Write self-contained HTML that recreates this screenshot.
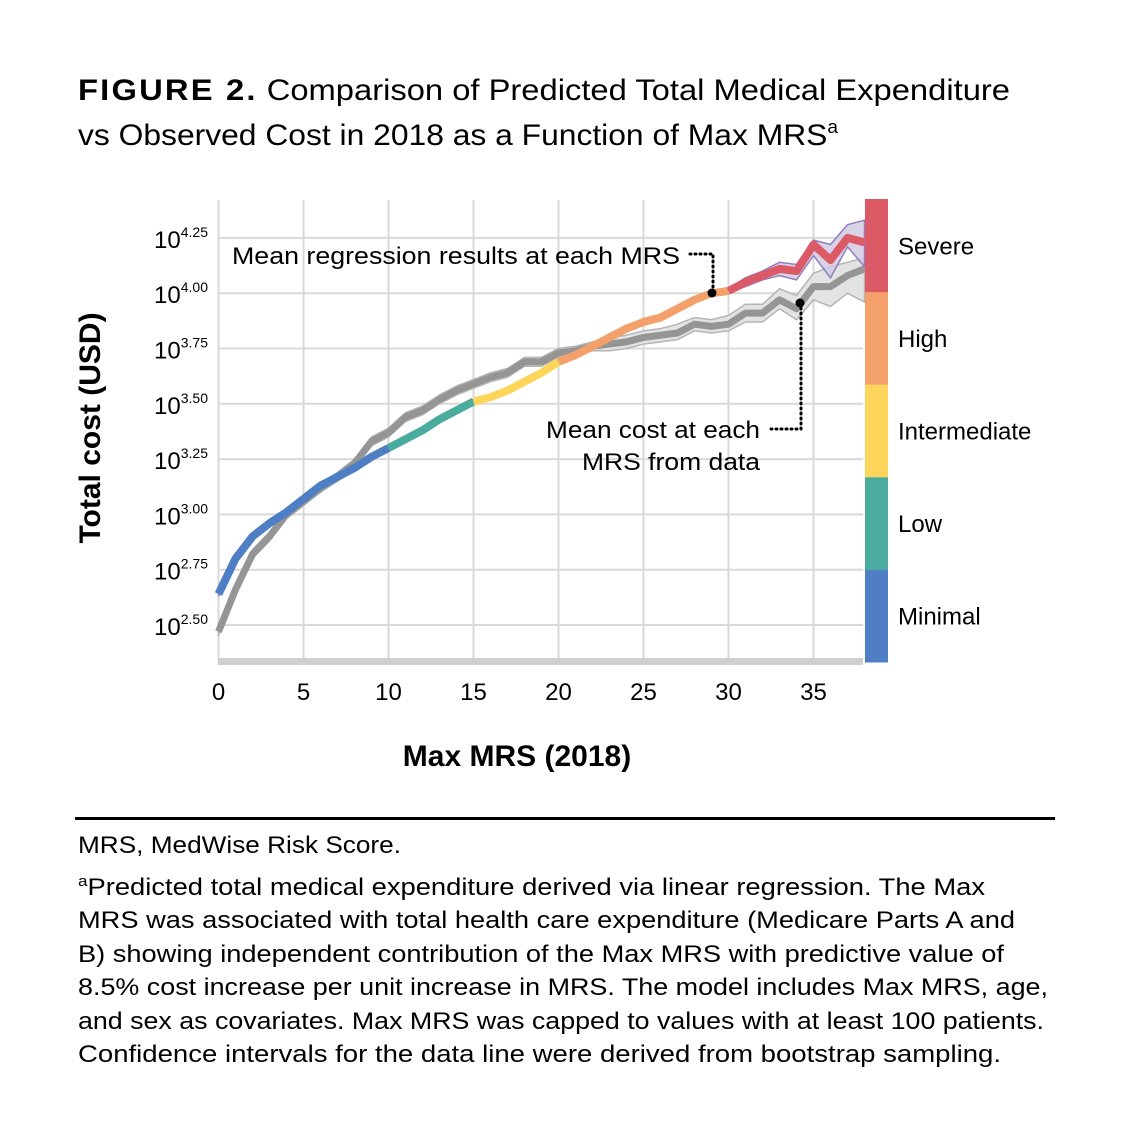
<!DOCTYPE html>
<html><head><meta charset="utf-8"><style>
html,body{margin:0;padding:0;background:#fff;}
svg{display:block;font-family:"Liberation Sans",sans-serif;}
</style></head><body>
<svg id="chart" width="1130" height="1138" viewBox="0 0 1130 1138" xmlns="http://www.w3.org/2000/svg">
<text x="78" y="100" font-size="30" textLength="932" lengthAdjust="spacingAndGlyphs"><tspan font-weight="bold" letter-spacing="2">FIGURE 2.</tspan> Comparison of Predicted Total Medical Expenditure</text>
<text x="78" y="145" font-size="30" textLength="760" lengthAdjust="spacingAndGlyphs">vs Observed Cost in 2018 as a Function of Max MRS<tspan font-size="18" dy="-12">a</tspan></text>
<g id="grid"></g>
<g id="bands"></g>
<g id="lines"></g>
<rect x="218" y="658" width="645" height="7" fill="#cfcfcf"/>
<g id="ticks"></g>
<text transform="translate(100,428) rotate(-90)" text-anchor="middle" font-size="30" font-weight="bold">Total cost (USD)</text>
<text x="517" y="766" text-anchor="middle" font-size="30" font-weight="bold">Max MRS (2018)</text>
<g id="colorbar"></g>
<g>
<text x="232" y="264" font-size="24" textLength="448" lengthAdjust="spacingAndGlyphs">Mean regression results at each MRS</text>
<path d="M690 254 H713 V293" fill="none" stroke="#000" stroke-width="3" stroke-dasharray="1 4" stroke-linecap="round"/>
<circle cx="712" cy="293" r="4.5" fill="#000"/>
</g>
<g>
<text x="760" y="438" font-size="24" text-anchor="end" textLength="214" lengthAdjust="spacingAndGlyphs">Mean cost at each</text>
<text x="671" y="470" font-size="24" text-anchor="middle" textLength="178" lengthAdjust="spacingAndGlyphs">MRS from data</text>
<path d="M771 429 H801 V303" fill="none" stroke="#000" stroke-width="3" stroke-dasharray="1 4" stroke-linecap="round"/>
<circle cx="800" cy="303" r="4.5" fill="#000"/>
</g>
<rect x="75" y="817" width="980" height="3" fill="#000"/>
<g font-size="24">
<text x="78" y="853" textLength="323" lengthAdjust="spacingAndGlyphs">MRS, MedWise Risk Score.</text>
<text x="78" y="895" textLength="907" lengthAdjust="spacingAndGlyphs"><tspan font-size="15" dy="-9">a</tspan><tspan dy="9">Predicted total medical expenditure derived via linear regression. The Max</tspan></text>
<text x="78" y="928" textLength="937" lengthAdjust="spacingAndGlyphs">MRS was associated with total health care expenditure (Medicare Parts A and</text>
<text x="78" y="962" textLength="926" lengthAdjust="spacingAndGlyphs">B) showing independent contribution of the Max MRS with predictive value of</text>
<text x="78" y="995" textLength="970" lengthAdjust="spacingAndGlyphs">8.5% cost increase per unit increase in MRS. The model includes Max MRS, age,</text>
<text x="78" y="1029" textLength="966" lengthAdjust="spacingAndGlyphs">and sex as covariates. Max MRS was capped to values with at least 100 patients.</text>
<text x="78" y="1062" textLength="923" lengthAdjust="spacingAndGlyphs">Confidence intervals for the data line were derived from bootstrap sampling.</text>
</g>
</svg>
<script>
const mrs = [0,1,2,3,4,5,6,7,8,9,10,11,12,13,14,15,16,17,18,19,20,21,22,23,24,25,26,27,28,29,30,31,32,33,34,35,36,37,38];
const observed = [2.47,2.66,2.82,2.90,3.00,3.06,3.12,3.17,3.23,3.33,3.37,3.44,3.47,3.52,3.56,3.59,3.62,3.64,3.69,3.69,3.73,3.74,3.76,3.77,3.78,3.80,3.81,3.82,3.86,3.85,3.86,3.91,3.91,3.97,3.93,4.03,4.03,4.08,4.11];
const observedLow = [2.45,2.64,2.80,2.88,2.98,3.04,3.10,3.15,3.21,3.31,3.35,3.42,3.45,3.50,3.54,3.57,3.60,3.62,3.67,3.67,3.71,3.72,3.74,3.74,3.75,3.77,3.78,3.79,3.83,3.82,3.83,3.87,3.87,3.93,3.88,3.97,3.94,4.00,3.96];
const observedHigh = [2.49,2.68,2.84,2.92,3.02,3.08,3.14,3.19,3.25,3.35,3.39,3.46,3.49,3.54,3.58,3.61,3.64,3.66,3.71,3.71,3.75,3.76,3.78,3.80,3.81,3.83,3.84,3.86,3.89,3.88,3.90,3.95,3.95,4.02,3.99,4.09,4.12,4.14,4.16];
const predicted = [2.64,2.80,2.90,2.96,3.01,3.07,3.13,3.17,3.21,3.26,3.30,3.34,3.38,3.43,3.47,3.51,3.53,3.56,3.60,3.64,3.69,3.72,3.76,3.80,3.84,3.87,3.89,3.93,3.97,4.00,4.01,4.05,4.08,4.11,4.10,4.22,4.15,4.25,4.23];
const predictedLow = [2.63,2.79,2.89,2.95,3.00,3.06,3.12,3.16,3.20,3.25,3.29,3.33,3.37,3.42,3.46,3.50,3.52,3.55,3.59,3.63,3.68,3.71,3.75,3.79,3.83,3.86,3.88,3.92,3.96,3.99,4.00,4.03,4.06,4.08,4.06,4.17,4.07,4.21,4.12];
const predictedHigh = [2.65,2.81,2.91,2.97,3.02,3.08,3.14,3.18,3.22,3.27,3.31,3.35,3.39,3.44,3.48,3.52,3.54,3.57,3.61,3.65,3.70,3.73,3.77,3.81,3.85,3.88,3.90,3.94,3.98,4.01,4.02,4.07,4.10,4.14,4.13,4.24,4.22,4.31,4.33];
const segmentBreaks = [0,10,15,20,30,38];
const segmentNames = ['minimal','low','intermediate','high','severe'];
const segmentColors = ['#4e7fc4','#4aab9f','#fdd55a','#f4a06a','#dc5a66'];
const yTicks = [2.50,2.75,3.00,3.25,3.50,3.75,4.00,4.25];
const yTickLabels = ['2.50','2.75','3.00','3.25','3.50','3.75','4.00','4.25'];
const xTicks = [0,5,10,15,20,25,30,35];
const legendLabels = ['Minimal','Low','Intermediate','High','Severe'];

const NS='http://www.w3.org/2000/svg';
const X0=218.5, PX=17.0, Y0=625, PY=221.2;
const xs = v => X0 + v*PX;
const ys = v => Y0 - (v-2.5)*PY;
function mk(tag, attrs, parent){const e=document.createElementNS(NS,tag);for(const k in attrs)e.setAttribute(k,attrs[k]);parent.appendChild(e);return e;}

const grid=document.getElementById('grid');
yTicks.forEach((t,i)=>{
  const l=mk('line',{x1:218,x2:863,y1:ys(t),y2:ys(t),stroke:'#d9d9d9','stroke-width':2},grid);
  
  
});
xTicks.forEach(t=>{
  const l=mk('line',{x1:xs(t),x2:xs(t),y1:200,y2:660,stroke:'#d9d9d9','stroke-width':2},grid);
  
  
});

const ticks=document.getElementById('ticks');
yTicks.forEach((t,i)=>{
  const tx=mk('text',{x:208,y:ys(t)+10,'text-anchor':'end','font-size':24},ticks);
  
  
  tx.appendChild(document.createTextNode('10'));
  const sp=mk('tspan',{'font-size':14,dy:-11},tx);
  sp.textContent=yTickLabels[i];
});
xTicks.forEach(t=>{
  const tx=mk('text',{x:xs(t),y:700,'text-anchor':'middle','font-size':24},ticks);
  
  
  tx.textContent=String(t);
});

function bandPath(lo,hi){
  let d='M'+mrs.map((m,i)=>xs(m)+' '+ys(hi[i])).join(' L');
  d+=' L'+mrs.slice().reverse().map((m,j)=>{const i=mrs.length-1-j;return xs(m)+' '+ys(lo[i]);}).join(' L')+' Z';
  return d;
}
function linePath(vals,from,to){
  const pts=[];mrs.forEach((m,i)=>{if(m>=from&&m<=to)pts.push(xs(m)+' '+ys(vals[i]));});
  return 'M'+pts.join(' L');
}
const bands=document.getElementById('bands');
const b1=mk('path',{d:bandPath(observedLow,observedHigh),fill:'#e3e3e3',stroke:'#b5b5b5','stroke-width':1.5},bands);


const b2=mk('path',{d:bandPath(predictedLow,predictedHigh),fill:'#cfc8e2','fill-opacity':0.8,stroke:'#8f7fc0','stroke-width':1.5},bands);



const lines=document.getElementById('lines');
const ol=mk('path',{d:linePath(observed,0,38),fill:'none',stroke:'#959595','stroke-width':7,'stroke-linejoin':'round'},lines);


for(let s=0;s<segmentNames.length;s++){
  const p=mk('path',{d:linePath(predicted,segmentBreaks[s],segmentBreaks[s+1]),fill:'none',stroke:segmentColors[s],'stroke-width':8,'stroke-linejoin':'round'},lines);
  
  
}

const cb=document.getElementById('colorbar');
const segH=(662-199)/5;
legendLabels.forEach((lab,i)=>{
  const y=662-(i+1)*segH;
  const r=mk('rect',{x:865,y:y,width:23,height:segH+0.5,fill:segmentColors[i]},cb);
  
  
  const t=mk('text',{x:898,y:y+segH/2+9,'font-size':24},cb);
  
  
  t.textContent=lab;
});
</script>
</body></html>
